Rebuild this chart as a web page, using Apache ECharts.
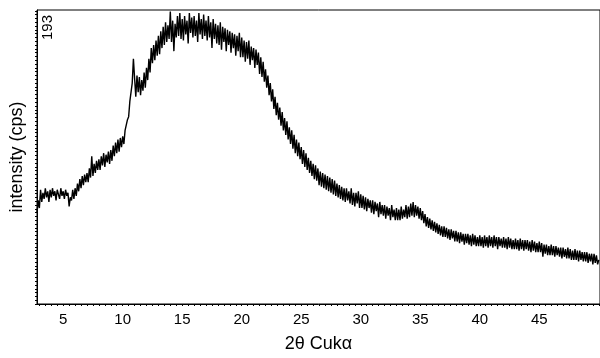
<!DOCTYPE html>
<html>
<head>
<meta charset="utf-8">
<script src="https://cdn.jsdelivr.net/npm/echarts@6/dist/echarts.min.js"></script>
<style>
html,body{margin:0;padding:0;background:#fff;}
#chart{width:600px;height:358px;}
</style>
</head>
<body>
<div id="chart"></div>
<script>
// step scan: first 2θ position and step (degrees)
const thetaStart = 2.8;
const thetaStep = 0.1;
// intensity (cps) at each step
const intensity = [
 60,68,
 63,75,67,73,69,76,70,74,67,75,
 70,76,71,74,68,75,72,69,76,71,
 74,69,75,71,73,64,70,68,75,69,
 76,71,79,74,82,76,84,78,85,80,
 86,80,89,83,97,84,92,86,94,88,
 95,88,97,91,99,90,98,93,100,92,
 101,94,104,97,106,99,108,100,109,103,
 110,105,114,113,121,123,133,134,145,161,
 148,136,150,139,149,137,147,140,152,142,
 155,147,161,152,168,158,170,160,173,163,
 176,164,179,168,182,170,185,172,183,174,
 192,172,186,166,184,175,189,176,191,174,
 187,173,189,177,186,171,191,178,188,175,
 189,176,186,172,191,177,187,174,190,176,
 186,173,189,175,185,168,187,174,184,171,
 183,170,185,167,182,172,181,166,180,170,
 179,165,178,168,177,163,176,166,178,162,
 175,162,173,159,172,161,173,157,169,160,
 168,155,167,157,165,151,162,149,159,146,
 154,142,150,137,145,133,141,128,136,124,
 132,121,129,117,126,114,122,111,120,108,
 116,105,114,102,111,99,108,97,106,95,
 103,92,101,90,99,88,96,86,94,84,
 92,82,91,81,89,78,87,77,86,76,
 85,75,84,74,83,73,82,72,81,71,
 79,70,78,69,77,68,76,67,76,68,
 74,66,76,65,73,64,73,66,74,63,
 72,63,71,62,70,61,69,63,68,60,
 68,59,67,61,66,57,67,59,65,58,
 65,56,64,58,63,55,65,57,62,55,
 63,55,62,55,64,56,62,57,65,56,
 64,57,66,58,67,57,65,58,64,56,
 63,55,61,53,59,51,57,50,56,49,
 55,48,54,47,53,46,52,45,51,44,
 51,44,50,43,49,42,49,43,48,41,
 48,41,47,40,47,41,46,39,46,40,
 46,39,45,38,46,39,45,38,44,38,
 45,38,44,37,45,38,44,37,45,38,
 44,37,45,38,44,36,44,38,43,37,
 44,37,43,36,44,37,43,36,42,36,
 43,36,42,35,43,36,42,35,42,36,
 42,35,41,34,42,35,41,34,40,34,
 41,34,40,31,39,33,39,32,38,32,
 39,32,38,31,38,32,37,31,37,30,
 37,31,36,30,37,30,36,29,35,29,
 36,29,35,28,35,29,34,28,34,28,
 34,27,33,28,33,26,33,27,32,26,
 29
];
const xTickLabels = [5,10,15,20,25,30,35,40,45];
const yMaxLabel = '193';

const xMinorTicks = [];
for (let v = 3; v <= 50.001; v += 0.5) xMinorTicks.push(+v.toFixed(1));
const yMinorTicks = [];
for (let v = 0; v <= 193; v += 2.5) yMinorTicks.push(v);

const font = 'Liberation Sans, Arial, Helvetica, sans-serif';
const chart = echarts.init(document.getElementById('chart'), null, {renderer: 'canvas'});
chart.setOption({
  animation: false,
  backgroundColor: '#fff',
  grid: {left: 37, right: 0, top: 10, bottom: 48, show: true, borderColor: '#000', borderWidth: 1, backgroundColor: 'transparent'},
  xAxis: {
    type: 'value', min: 2.8, max: 50.1,
    name: '2θ Cukα', nameLocation: 'middle', nameGap: 31,
    nameTextStyle: {fontFamily: font, fontSize: 18, color: '#000'},
    axisLine: {show: true, onZero: false, lineStyle: {color: '#000', width: 1}},
    axisTick: {show: true, customValues: xMinorTicks, length: 2, lineStyle: {color: '#000'}},
    axisLabel: {customValues: xTickLabels, fontFamily: font, fontSize: 15, color: '#000', margin: 8},
    splitLine: {show: false}
  },
  yAxis: {
    type: 'value', min: 0, max: 193,
    name: 'intensity (cps)', nameLocation: 'middle', nameGap: 11,
    nameTextStyle: {fontFamily: font, fontSize: 18, color: '#000'},
    axisLine: {show: true, lineStyle: {color: '#000', width: 1}},
    axisTick: {show: true, customValues: yMinorTicks, length: 2, lineStyle: {color: '#000'}},
    axisLabel: {show: false},
    splitLine: {show: false}
  },
  graphic: [{
    type: 'text', x: 48, y: 15, rotation: Math.PI / 2,
    style: {text: yMaxLabel, font: '15px ' + font, fill: '#000', textAlign: 'right', textVerticalAlign: 'middle'}
  }],
  series: [{
    type: 'line',
    data: intensity.map((v, i) => [+(thetaStart + i * thetaStep).toFixed(1), v]),
    showSymbol: false,
    lineStyle: {color: '#000', width: 1.4},
    z: 3
  }]
});
</script>
</body>
</html>
